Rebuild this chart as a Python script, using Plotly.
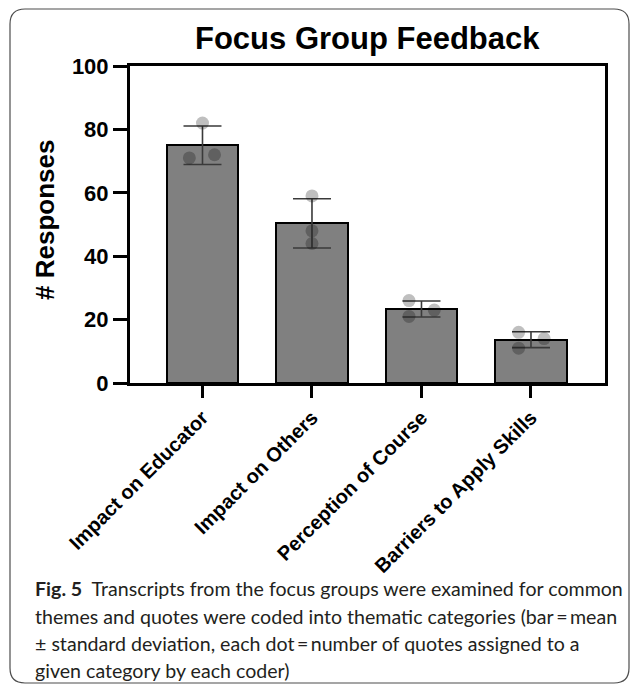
import numpy as np
import plotly.graph_objects as go

# Thematic categories and quote counts assigned by each of the three coders
categories = ["Impact on Educator", "Impact on Others",
              "Perception of Course", "Barriers to Apply Skills"]
coder_a = [82, 59, 26, 16]
coder_b = [71, 48, 21, 11]
coder_c = [72, 44, 23, 14]
y_ticks = [0, 20, 40, 60, 80, 100]

# horizontal scatter of the dots around each bar centre (category units)
dot_jitter = {
    "a": [0.0, 0.0, -0.114, -0.113],
    "b": [-0.12, 0.0, -0.114, -0.113],
    "c": [0.11, 0.0, 0.117, 0.12],
}

counts = np.array([coder_a, coder_b, coder_c], dtype=float)
means = counts.mean(axis=0)
sds = counts.std(axis=0, ddof=1)
xpos = np.arange(len(categories))

W, H = 630, 686
L, R, T, B = 130, 605, 66, 383          # plot area in pixels
XR = [-0.662, 3.676]


def px_x(px):
    return (px - L) / (R - L)


def px_y(py):
    return (B - py) / (B - T)


AX_FONT = "Liberation Sans, Arial, sans-serif"
CAP_FONT = "Lato, Open Sans, sans-serif"

fig = go.Figure()

fig.add_trace(go.Bar(
    x=xpos, y=means, width=0.655,
    marker=dict(color="#808080", line=dict(color="#000000", width=2)),
    error_y=dict(type="data", array=sds, visible=True,
                 color="#3a3a3a", thickness=1.6, width=19),
    showlegend=False,
))

for key, vals in (("a", coder_a), ("b", coder_b), ("c", coder_c)):
    fig.add_trace(go.Scatter(
        x=xpos + np.array(dot_jitter[key]), y=vals, mode="markers",
        marker=dict(size=13, color="rgba(0,0,0,0.25)", line=dict(width=0)),
        showlegend=False,
    ))

annotations = [
    dict(text="<b>Focus Group Feedback</b>", x=0.5, y=px_y(38),
         xref="paper", yref="paper", showarrow=False,
         xanchor="center", yanchor="middle",
         font=dict(family=AX_FONT, size=31, color="#000000")),
    dict(text="<b># Responses</b>", x=px_x(45), y=px_y(220),
         xref="paper", yref="paper", showarrow=False, textangle=-90,
         xanchor="center", yanchor="middle",
         font=dict(family=AX_FONT, size=26, color="#000000")),
]

caption_lines = [
    "<b>Fig.\u00a05</b>\u00a0\u00a0Transcripts from the focus groups were examined for common",
    "themes and quotes were coded into thematic categories (bar\u2009=\u2009mean",
    "\u00b1 standard deviation, each dot\u2009=\u2009number of quotes assigned to a",
    "given category by each coder)",
]
caption_y = [588, 616, 643, 670]
for line, yy in zip(caption_lines, caption_y):
    annotations.append(dict(
        text=line, x=px_x(33), y=px_y(yy), xref="paper", yref="paper",
        showarrow=False, xanchor="left", yanchor="middle",
        font=dict(family=CAP_FONT, size=19.6, color="#231f20")))

# rounded frame around figure and caption
x0, x1, y0, y1, r = px_x(10), px_x(629), px_y(9), px_y(683), 15
rx, ry = r / (R - L), r / (B - T)
frame = (f"M {x0+rx},{y0} L {x1-rx},{y0} Q {x1},{y0} {x1},{y0-ry} "
         f"L {x1},{y1+ry} Q {x1},{y1} {x1-rx},{y1} "
         f"L {x0+rx},{y1} Q {x0},{y1} {x0},{y1+ry} "
         f"L {x0},{y0-ry} Q {x0},{y0} {x0+rx},{y0} Z")

fig.update_layout(
    width=W, height=H, autosize=False,
    margin=dict(l=L, r=W - R, t=T, b=H - B, pad=0),
    paper_bgcolor="white", plot_bgcolor="white",
    bargap=0,
    annotations=annotations,
    shapes=[dict(type="path", path=frame, xref="paper", yref="paper",
                 line=dict(color="#4d4d4d", width=1.2), layer="below")],
    xaxis=dict(
        range=XR, tickmode="array", tickvals=list(xpos), ticktext=categories,
        tickangle=-45, ticks="outside", ticklen=12, tickwidth=2.7,
        tickcolor="#000000", showline=True, linewidth=3, linecolor="#000000",
        mirror=True, showgrid=False, zeroline=False,
        tickfont=dict(family=AX_FONT, size=20, color="#000000", weight="bold"),
    ),
    yaxis=dict(
        range=[0, 100], tickmode="array", tickvals=y_ticks,
        ticks="outside", ticklen=14, tickwidth=2.7, tickcolor="#000000",
        showline=True, linewidth=3, linecolor="#000000", mirror=True,
        showgrid=False, zeroline=False,
        tickfont=dict(family=AX_FONT, size=22, color="#000000", weight="bold"),
    ),
)

fig.write_html("out.html")
